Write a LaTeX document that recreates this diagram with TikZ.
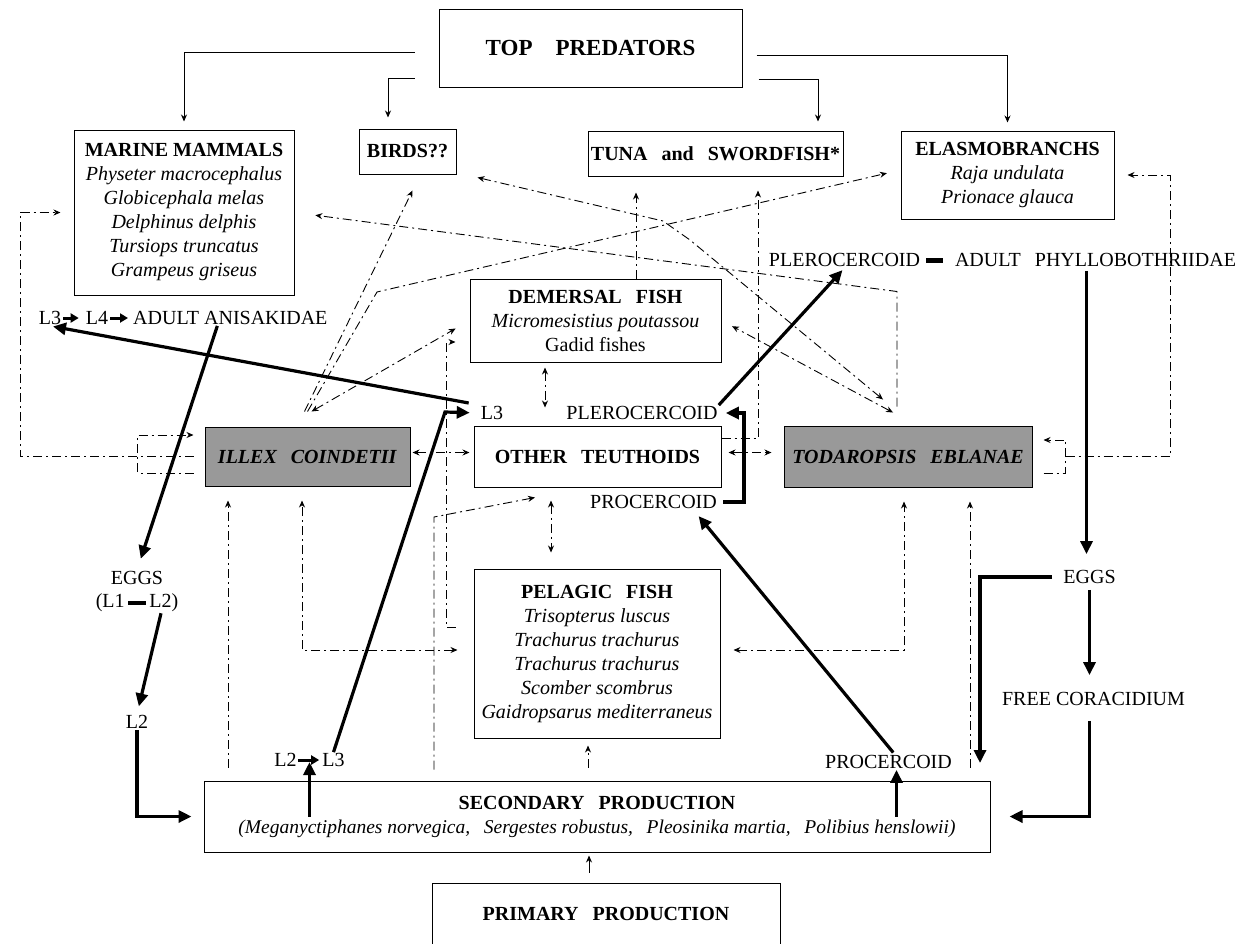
\documentclass[tikz,border=0pt]{standalone}
\usepackage{fontspec}
\setmainfont{Liberation Serif}
\usetikzlibrary{arrows.meta,calc}
\newcommand{\wsp}{\hspace{0.7em}}
\tikzset{
 box/.style={draw, line width=1pt, align=center, inner sep=0pt, font=\fontsize{20}{24}\selectfont},
 shadebox/.style={box, fill=black!40},
 lbl/.style={inner sep=1pt, font=\fontsize{20}{24}\selectfont},
 solar/.style={line width=0.9pt, -{Stealth[length=7pt,width=6pt]}},
 dd/.style={line width=0.9pt, dash pattern=on 9pt off 4pt on 2pt off 4pt},
 ddar/.style={dd, -{Stealth[length=7pt,width=6pt]}},
 ddbi/.style={dd, {Stealth[length=7pt,width=6pt]}-{Stealth[length=7pt,width=6pt]}},
 thk/.style={line width=3.2pt},
 thkar/.style={thk, -{Triangle[length=13pt,width=12pt]}},
 thksm/.style={line width=3pt, -{Triangle[length=8pt,width=9pt]}},
}
\begin{document}
\begin{tikzpicture}[x=1pt,y=-1pt]
\useasboundingbox (0,0) rectangle (1241,943);
% boxes
\node[box, minimum width=303pt, minimum height=78pt, font=\fontsize{23}{28}\selectfont] (top) at (590.5,48) {\textbf{TOP\hspace{1em}PREDATORS}};
\node[box, minimum width=220pt, minimum height=165pt] (mm) at (184,212.5) {\textbf{MARINE MAMMALS}\\ \textit{Physeter macrocephalus}\\ \textit{Globicephala melas}\\ \textit{Delphinus delphis}\\ \textit{Tursiops truncatus}\\ \textit{Grampeus griseus}};
\node[box, minimum width=97pt, minimum height=45pt] (birds) at (407.5,151.5) {\textbf{BIRDS??}};
\node[box, minimum width=255pt, minimum height=45pt] (tuna) at (715.5,153.5) {\textbf{TUNA\wsp and\wsp SWORDFISH*}};
\node[box, minimum width=213pt, minimum height=88pt] (elasmo) at (1007.5,175) {\textbf{ELASMOBRANCHS}\\ \textit{Raja undulata}\\ \textit{Prionace glauca}};
\node[box, minimum width=251pt, minimum height=83pt] (dem) at (595.5,320.5) {\textbf{DEMERSAL\wsp FISH}\\ \textit{Micromesistius poutassou}\\ Gadid fishes};
\node[shadebox, minimum width=205pt, minimum height=59pt] (illex) at (307.5,456.5) {\textbf{\textit{ILLEX\wsp COINDETII}}};
\node[box, minimum width=247pt, minimum height=61pt] (other) at (597.5,456.5) {\textbf{OTHER\wsp TEUTHOIDS}};
\node[shadebox, minimum width=248pt, minimum height=61pt] (toda) at (908,456.5) {\textbf{\textit{TODAROPSIS\wsp EBLANAE}}};
\node[box, minimum width=246pt, minimum height=169pt] (pel) at (597,653.5) {\textbf{PELAGIC\wsp FISH}\\ \textit{Trisopterus luscus}\\ \textit{Trachurus trachurus}\\ \textit{Trachurus trachurus}\\ \textit{Scomber scombrus}\\ \textit{Gaidropsarus mediterraneus}};
\node[box, minimum width=786pt, minimum height=71pt] (sec) at (597,816.5) {\textbf{SECONDARY\wsp PRODUCTION}\\ {\fontsize{19.5}{24}\selectfont\textit{(Meganyctiphanes norvegica,\wsp Sergestes robustus,\wsp Pleosinika martia,\wsp Polibius henslowii)}}};
\node[box, minimum width=348pt, minimum height=62pt] (prim) at (606,914) {\textbf{PRIMARY\wsp PRODUCTION}};
% labels
\node[lbl] (l3a) at (50,318) {L3};
\node[lbl] (l4a) at (97,318) {L4};
\node[lbl, anchor=west] (adA) at (132,318) {ADULT ANISAKIDAE};
\node[lbl] (eggL) at (137,578) {EGGS};
\node[lbl] (l12) at (137,603) {(L1\,\rule[0.3ex]{0.9em}{0.2em}\,L2)};
\node[lbl] (l2L) at (137,722) {L2};
\node[lbl] (l2b) at (285.5,760) {L2};
\node[lbl] (l3b) at (333.5,760) {L3};
\node[lbl] (l3o) at (492,413) {L3};
\node[lbl] (pleO) at (642,413) {PLEROCERCOID};
\node[lbl] (proO) at (653.5,502) {PROCERCOID};
\node[lbl] (pleT) at (844.5,260) {PLEROCERCOID};
\node[lbl] (adP) at (1095.5,260) {ADULT\wsp PHYLLOBOTHRIIDAE};
\node[lbl] (eggR) at (1089.5,577) {EGGS};
\node[lbl] (cora) at (1093.5,699) {FREE CORACIDIUM};
\node[lbl] (proB) at (888.5,762) {PROCERCOID};
% helper coordinates
\coordinate (c1) at (445,412);
\coordinate (c3) at (980,763);
\coordinate (m23) at ($(l2b.east)!0.5!(l3b.west)$);
\coordinate (kL) at (20,0);
\coordinate (kR) at (1170,0);
\coordinate (kD) at (446,0);
\coordinate (kS) at (434,0);
\coordinate (s517) at (434,517);
\coordinate (kI) at (228,0);
\coordinate (kI2) at (302,0);
\coordinate (kT) at (904,0);
\coordinate (kT2) at (970,0);
\coordinate (kU) at (758,0);
\coordinate (b1) at (663,221);
\coordinate (b2) at (690,240);
\coordinate (e1) at (377,292);
\coordinate (p1) at ($(pel.west)+(0,-26.5)$);
\coordinate (d1) at ($(dem.west)+(0,21.5)$);
\coordinate (p2) at ($(pel.west)+(0,-3.5)$);
\coordinate (p3) at ($(pel.east)+(0,-3.5)$);
\coordinate (o1) at ($(other.south)+(-62.5,10)$);
\coordinate (o2) at ($(other.east)+(0,-18.5)$);
% thick life-cycle connectors
\draw[thksm, shorten <=1pt, shorten >=6pt] (l3a) -- (l4a);
\draw[thksm, shorten <=1pt, shorten >=4pt] (l4a) -- (adA);
\draw[thkar, shorten >=12pt] ($(adA.south)+(-13,0)$) -- (eggL.north);
\draw[thkar, shorten >=8pt] ($(l12.south)+(24,0)$) -- (l2L.north);
\draw[thkar, shorten >=12pt] (l2L.south) |- (sec.west);
\draw[thksm, shorten >=2pt] (l2b) -- (l3b);
\draw[thkar, shorten >=2pt] (m23 |- sec.center) -- (m23);
\draw[thkar, shorten >=10pt] (l3b.north) -- (c1) -- (l3o.west);
\draw[thkar, shorten >=3pt] ($(l3o.west)+(-11,-10)$) -- (l3a.south);
\draw[thkar, shorten <=2pt, shorten >=8pt] ($(proB.north)+(6,0)$) -- ($(proO.south)+(40,0)$);
\draw[thkar] ($(proB.south |- sec.center)+(8,0)$) -- ($(proB.south)+(8,0)$);
\draw[thkar, shorten <=10pt] (eggR.west) -| (c3);
\draw[thkar, shorten <=5pt, shorten >=16pt] (eggR.south) -- (eggR.south |- cora.north);
\draw[thkar, shorten <=14pt] (eggR.south |- cora.south) |- ($(sec.east)+(19,0)$);
\draw[thkar, shorten <=3pt, shorten >=15pt] ($(adP.south)+(-9,0)$) -- ($(adP.south |- eggR.north)+(-9,0)$);
\draw[thkar, shorten <=5pt, shorten >=7pt] (proO.east) -- ++(26,0) |- (pleO.east);
\draw[thkar, shorten >=3pt] (pleO.north east) -- (pleT.south);
\draw[line width=5pt, shorten <=5pt, shorten >=11pt] (pleT) -- (adP);
% top predators
\draw[solar, shorten >=8pt] ($(top.west)+(-24,4)$) -| (mm.north);
\draw[solar, shorten >=11pt] ($(top.west)+(-24,30)$) -| ($(birds.north)+(-19.5,0)$);
\draw[solar, shorten >=9pt] ($(top.east)+(16,31)$) -| ($(tuna.north)+(102.5,0)$);
\draw[solar, shorten >=8pt] ($(top.east)+(14,7)$) -| (elasmo.north);
\draw[solar, shorten <=10pt, shorten >=3pt] ($(prim.north)+(-17,0)$) -- ($(sec.south)+(-8,0)$);
% dashed trophic links
\draw[ddar, shorten <=11pt, shorten >=13pt] (illex.west) -- (kL |- illex.west) |- (mm.west);
\draw[ddar] ($(illex.west)+(-11,16.5)$) -- ++(-56,0) |- ($(illex.west)+(-11,-21.5)$);
\draw[ddar] ($(toda.east)+(11,16.5)$) -- ++(22,0) |- ($(toda.east)+(11,-16.5)$);
\draw[ddar, shorten >=13pt] ($(toda.east)+(33,0)$) -- (kR |- toda.east) |- (elasmo.east);
\draw[ddar, shorten <=19pt, shorten >=21pt] ($(toda.north)+(-11,0)$) -- ++(0,-134) -- (mm.east);
\draw[ddbi] ($(toda.north)+(-25,-26)$) -- (b2) -- (b1) -- ($(birds.south east)+(21,3)$);
\draw[ddbi, shorten >=12pt] ($(toda.north)+(-15,-13)$) -- (dem.east);
\draw[ddar] ($(illex.north)+(-3,-15)$) -- ($(birds.south)+(5,16)$);
\draw[ddar, shorten >=14pt] ($(illex.north)+(0,-15)$) -- (e1) -- ($(elasmo.west)+(0,-5)$);
\draw[ddbi, shorten >=16pt] ($(illex.north)+(4,-15)$) -- (dem.west);
\draw[ddar, shorten <=18pt, shorten >=14pt] (p1) -- (kD |- p1) -- (kD |- d1) -- (d1);
\draw[ddar, shorten <=11pt] (kS |- sec.north) -- (s517) -- (o1);
\draw[ddar, shorten <=13pt, shorten >=14pt] (kI |- sec.north) -- (kI |- illex.south);
\draw[ddbi, shorten <=16pt, shorten >=14pt] (p2) -- (kI2 |- p2) -- (kI2 |- illex.south);
\draw[ddbi, shorten <=13pt, shorten >=14pt] (p3) -- (kT |- p3) -- (kT |- toda.south);
\draw[ddar, shorten <=13pt, shorten >=14pt] (kT2 |- sec.north) -- (kT2 |- toda.south);
\draw[ddar, shorten <=13pt, shorten >=7pt] ($(sec.north)+(-9,0)$) -- ($(pel.south)+(-9,0)$);
\draw[ddbi, shorten <=5pt, shorten >=18pt] ($(dem.south)+(-50.5,0)$) -- ($(other.north)+(-52.5,0)$);
\draw[ddbi, shorten <=13pt, shorten >=16pt] ($(other.south)+(-46.5,0)$) -- ($(pel.north)+(-46,0)$);
\draw[ddbi, shorten <=2pt, shorten >=4pt] ($(illex.east)+(0,-4)$) -- ($(other.west)+(0,-4)$);
\draw[ddbi, shorten <=7pt, shorten >=12pt] ($(other.east)+(0,-4)$) -- ($(toda.west)+(0,-4)$);
\draw[ddar, shorten >=16pt] ($(dem.north)+(40.5,0)$) -- ($(tuna.south)+(-79.5,0)$);
\draw[ddar, shorten >=14pt] (o2) -- (kU |- o2) -- (kU |- tuna.south);
\end{tikzpicture}
\end{document}
